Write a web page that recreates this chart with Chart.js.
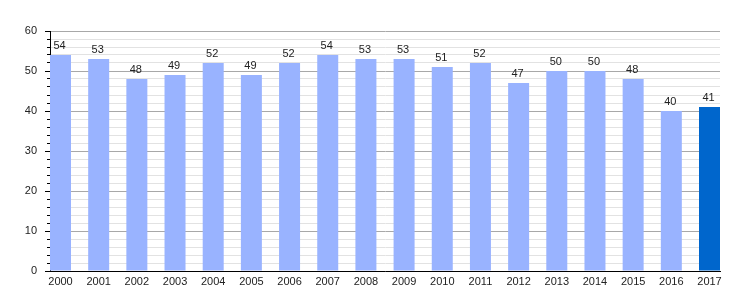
<!DOCTYPE html>
<html>
<head>
<meta charset="utf-8">
<script src="https://cdn.jsdelivr.net/npm/chart.js@4/dist/chart.umd.min.js"></script>
<style>
  html, body { margin: 0; padding: 0; background: #fff; }
  #wrap { width: 750px; height: 300px; }
</style>
</head>
<body>
<div id="wrap"><canvas id="c" width="750" height="300"></canvas></div>
<script>
const years = [2000, 2001, 2002, 2003, 2004, 2005, 2006, 2007, 2008, 2009, 2010, 2011, 2012, 2013, 2014, 2015, 2016, 2017];
const values = [54, 53, 48, 49, 52, 49, 52, 54, 53, 53, 51, 52, 47, 50, 50, 48, 40, 41];
const yTicks = [0, 10, 20, 30, 40, 50, 60];
const highlightYear = 2017;

const baseColor = '#99b3ff';
const hiColor = '#0066cc';

const points = years.map((y, i) => ({ x: y, y: values[i] }));
const colors = years.map(y => y === highlightYear ? hiColor : baseColor);

const FONT = "'Liberation Sans', Arial, sans-serif";
Chart.defaults.font.family = FONT;
Chart.defaults.font.size = 11;
Chart.defaults.color = '#222';

const valueLabels = {
  id: 'valueLabels',
  afterDatasetsDraw(chart) {
    const ctx = chart.ctx;
    const meta = chart.getDatasetMeta(0);
    ctx.save();
    ctx.font = '11px ' + FONT;
    ctx.fillStyle = '#222';
    ctx.textAlign = 'center';
    ctx.textBaseline = 'bottom';
    meta.data.forEach((bar, i) => {
      ctx.fillText(String(values[i]), bar.x - 1, bar.y - 4);
    });
    ctx.restore();
  }
};

const halfBar = 0.275;
const isMajor = c => c.tick && c.tick.value % 10 === 0;

new Chart(document.getElementById('c'), {
  type: 'bar',
  data: {
    datasets: [{
      data: points,
      backgroundColor: colors,
      borderWidth: 0,
      barPercentage: 0.55,
      categoryPercentage: 1.0
    }]
  },
  options: {
    responsive: false,
    animation: false,
    events: [],
    layout: { padding: { top: 31, right: 30, left: 0, bottom: 0 } },
    plugins: { legend: { display: false }, tooltip: { enabled: false } },
    scales: {
      x: {
        type: 'linear',
        offset: false,
        min: years[0] - halfBar,
        max: years[years.length - 1] + halfBar,
        grid: { display: false, drawTicks: false, tickLength: 0 },
        border: { display: true, color: '#000', width: 1 },
        ticks: {
          stepSize: 1,
          includeBounds: false,
          autoSkip: false,
          maxRotation: 0,
          padding: 4,
          color: '#222',
          font: { size: 11 },
          callback: v => Number.isInteger(v) && years.includes(v) ? String(v) : ''
        },
        afterFit(scale) { scale.height = 29; }
      },
      y: {
        min: 0,
        max: 60,
        grid: {
          color: c => isMajor(c) ? '#a8a8a8' : '#e2e2e2',
          tickColor: '#000',
          tickLength: 5,
          tickBorderDash: c => isMajor(c) ? [] : [3, 2],
          tickBorderDashOffset: c => isMajor(c) ? 0 : 3,
          drawTicks: true
        },
        border: { display: true, color: '#000', width: 1 },
        ticks: {
          stepSize: 2,
          autoSkip: false,
          padding: 8,
          color: '#222',
          font: { size: 11 },
          callback: v => yTicks.includes(v) ? String(v) : ''
        },
        afterFit(scale) { scale.width = 50; }
      }
    }
  },
  plugins: [valueLabels]
});
</script>
</body>
</html>
